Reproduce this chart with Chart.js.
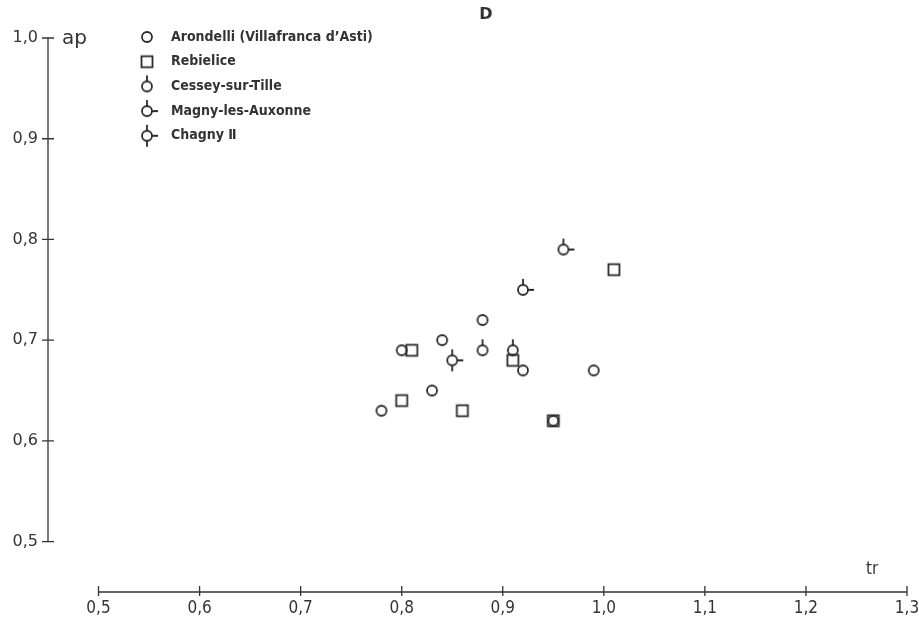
<!DOCTYPE html>
<html>
<head>
<meta charset="utf-8">
<script src="https://cdn.jsdelivr.net/npm/chart.js@4/dist/chart.umd.min.js"></script>
<style>
  body { margin: 0; background: #fff; }
</style>
</head>
<body>
<canvas id="c" width="919" height="620"></canvas>
<script>
// values (tr on x, ap on y)
const seriesNames = ['Arondelli (Villafranca d\u2019Asti)', 'Rebielice', 'Cessey-sur-Tille', 'Magny-les-Auxonne', 'Chagny \u2161'];
const arondelliTr = [0.80, 0.84, 0.88, 0.92, 0.99, 0.83, 0.78, 0.95];
const arondelliAp = [0.69, 0.70, 0.72, 0.67, 0.67, 0.65, 0.63, 0.62];
const rebieliceTr = [0.81, 0.80, 0.86, 0.91, 0.95, 1.01];
const rebieliceAp = [0.69, 0.64, 0.63, 0.68, 0.62, 0.77];
const cesseyTr = [0.88, 0.91];
const cesseyAp = [0.69, 0.69];
const magnyTr = [0.96, 0.92];
const magnyAp = [0.79, 0.75];
const chagnyTr = [0.85];
const chagnyAp = [0.68];
const xTicks = [0.5, 0.6, 0.7, 0.8, 0.9, 1.0, 1.1, 1.2, 1.3];
const yTicks = [0.5, 0.6, 0.7, 0.8, 0.9, 1.0];

const INK = '#333333';

// little canvases used as point styles
function marker(kind) {
  const cv = document.createElement('canvas');
  cv.width = 26; cv.height = 26;
  const g = cv.getContext('2d');
  g.strokeStyle = '#2a2a2a';
  g.lineWidth = 1.8;
  const c = 13;
  if (kind === 'square') {
    g.strokeRect(c - 5.5, c - 5.5, 11, 11);
    return cv;
  }
  g.beginPath();
  g.arc(c, c, 5, 0, Math.PI * 2);
  g.stroke();
  g.beginPath();
  if (kind !== 'circle') { g.moveTo(c, c - 5); g.lineTo(c, c - 11); }
  if (kind === 'magny' || kind === 'chagny') { g.moveTo(c + 5, c); g.lineTo(c + 11, c); }
  if (kind === 'chagny') { g.moveTo(c, c + 5); g.lineTo(c, c + 11); }
  g.stroke();
  return cv;
}
const styles = [marker('circle'), marker('square'), marker('cessey'), marker('magny'), marker('chagny')];

const pts = (xs, ys) => xs.map((x, i) => ({ x: x, y: ys[i] }));
const seriesData = [
  pts(arondelliTr, arondelliAp),
  pts(rebieliceTr, rebieliceAp),
  pts(cesseyTr, cesseyAp),
  pts(magnyTr, magnyAp),
  pts(chagnyTr, chagnyAp)
];

const comma = v => Number(v).toFixed(1).replace('.', ',');

const drawing = {
  id: 'drawing',
  afterDraw(chart) {
    const ctx = chart.ctx;
    const xs = chart.scales.x, ys = chart.scales.y;
    const left = chart.chartArea.left, bottom = chart.chartArea.bottom;
    ctx.save();
    ctx.strokeStyle = INK;
    ctx.lineWidth = 1.3;
    // y axis
    ctx.beginPath();
    ctx.moveTo(left, ys.getPixelForValue(1.0));
    ctx.lineTo(left, ys.getPixelForValue(0.5));
    yTicks.forEach(v => {
      const p = ys.getPixelForValue(v);
      ctx.moveTo(left - 6, p); ctx.lineTo(left + 6, p);
    });
    // x axis
    ctx.moveTo(xs.getPixelForValue(0.5), bottom);
    ctx.lineTo(xs.getPixelForValue(1.3), bottom);
    xTicks.forEach(v => {
      const p = xs.getPixelForValue(v);
      ctx.moveTo(p, bottom - 6); ctx.lineTo(p, bottom + 4);
    });
    ctx.stroke();

    ctx.fillStyle = INK;
    ctx.textBaseline = 'middle';
    ctx.textAlign = 'left';
    ctx.font = '20px "DejaVu Sans"';
    ctx.fillText('ap', left + 14, ys.getPixelForValue(1.0) + 1);
    ctx.font = '17px "DejaVu Sans Condensed"';
    ctx.fillText('tr', 866, 570);
    ctx.font = 'bold 16px "DejaVu Sans"';
    ctx.textAlign = 'center';
    ctx.fillText('D', 486, 15);

    // legend
    ctx.textAlign = 'left';
    ctx.font = 'bold 14px "DejaVu Sans Condensed"';
    seriesNames.forEach((name, i) => {
      const y = 37 + i * 24.7;
      const st = styles[i];
      ctx.drawImage(st, 147 - st.width / 2, y - st.height / 2);
      ctx.fillText(name, 171, y);
    });
    ctx.restore();
  }
};

new Chart(document.getElementById('c'), {
  type: 'scatter',
  data: {
    datasets: seriesData.map((d, i) => ({
      label: seriesNames[i],
      data: d,
      pointStyle: styles[i],
      pointRadius: 6,
      borderColor: INK,
      backgroundColor: 'transparent'
    }))
  },
  options: {
    responsive: false,
    animation: false,
    clip: false,
    layout: { autoPadding: false, padding: { top: 38, right: 12, left: 0, bottom: 0 } },
    plugins: { legend: { display: false }, tooltip: { enabled: false } },
    scales: {
      x: {
        type: 'linear', min: 0.45, max: 1.3,
        afterBuildTicks: s => { s.ticks = xTicks.map(v => ({ value: v })); },
        afterFit: s => { s.height = 28; s.paddingLeft = 0; s.paddingRight = 0; },
        grid: { display: false, drawTicks: false },
        border: { display: false },
        ticks: { padding: 6, color: INK, font: { family: 'DejaVu Sans Condensed', size: 17 }, callback: comma, maxRotation: 0, autoSkip: false }
      },
      y: {
        type: 'linear', min: 0.45, max: 1.0,
        afterBuildTicks: s => { s.ticks = yTicks.map(v => ({ value: v })); },
        afterFit: s => { s.width = 48; s.paddingTop = 0; s.paddingBottom = 0; },
        grid: { display: false, drawTicks: false },
        border: { display: false },
        ticks: { padding: 10, color: INK, font: { family: 'DejaVu Sans', size: 16 }, callback: comma, autoSkip: false }
      }
    }
  },
  plugins: [drawing]
});
</script>
</body>
</html>
